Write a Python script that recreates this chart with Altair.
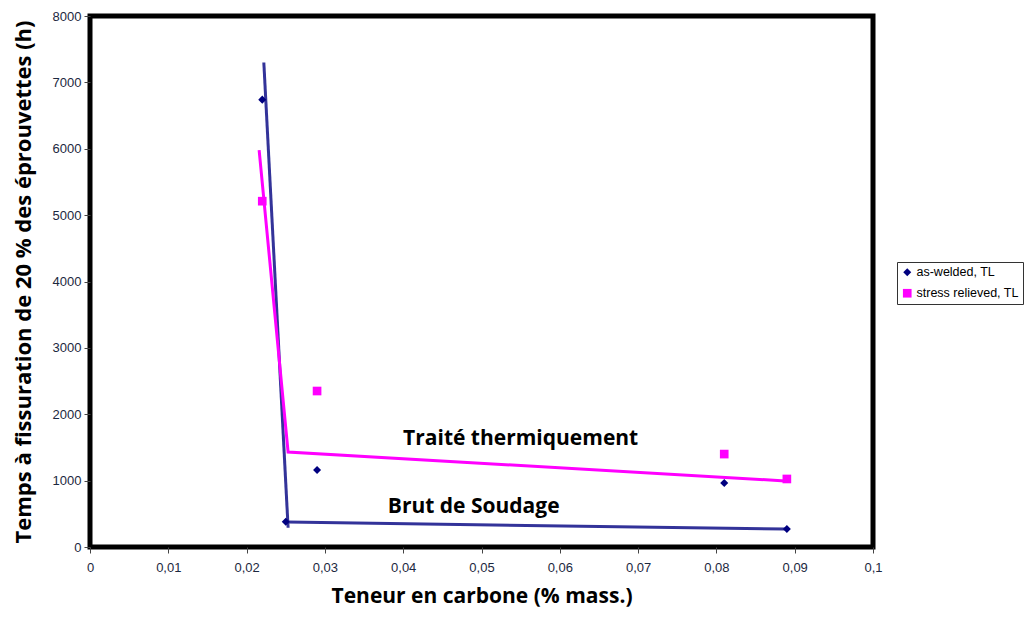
import altair as alt
import pandas as pd

# ---- data ----
series_names = ["as-welded, TL", "stress relieved, TL"]

aw_x = [0.022, 0.025, 0.029, 0.081, 0.089]
aw_y = [6740, 380, 1160, 965, 270]

sr_x = [0.022, 0.029, 0.081, 0.089]
sr_y = [5210, 2350, 1400, 1025]

# hand-drawn trend lines (segment id, x, y)
line_seg = ["aw1", "aw1", "aw2", "aw2", "sr", "sr", "sr"]
line_x = [0.0222, 0.0253, 0.0252, 0.0888, 0.0216, 0.0253, 0.0888]
line_y = [7300, 290, 375, 270, 5980, 1430, 995]
line_col = ["#333399", "#333399", "#333399", "#333399", "#FF00FF", "#FF00FF", "#FF00FF"]

ann_text = ["Traité thermiquement", "Brut de Soudage"]
ann_x = [0.0550, 0.0490]
ann_y = [1620, 610]

x_ticks = [0, 0.01, 0.02, 0.03, 0.04, 0.05, 0.06, 0.07, 0.08, 0.09, 0.1]
y_ticks = [0, 1000, 2000, 3000, 4000, 5000, 6000, 7000, 8000]

pts = pd.DataFrame(
    {"x": aw_x + sr_x,
     "y": aw_y + sr_y,
     "series": [series_names[0]] * len(aw_x) + [series_names[1]] * len(sr_x)}
)
lines = pd.DataFrame({"seg": line_seg, "x": line_x, "y": line_y,
                      "col": line_col, "ord": list(range(len(line_x)))})
ann = pd.DataFrame({"t": ann_text, "x": ann_x, "y": ann_y})

xs = alt.Scale(domain=[0, 0.1], nice=False, zero=False)
ys = alt.Scale(domain=[0, 8000], nice=False)

label_expr = "replace(format(datum.value, '.2~f'), '.', ',')"

x_enc = alt.X("x:Q", scale=xs, axis=alt.Axis(
    values=x_ticks, labelExpr=label_expr,
    title="Teneur en carbone (% mass.)", titlePadding=11, titleFontSize=21))
y_enc = alt.Y("y:Q", scale=ys, axis=alt.Axis(
    values=y_ticks, format="d",
    title="Temps à fissuration de 20 % des éprouvettes (h)",
    titlePadding=17))

line_layer = alt.Chart(lines).mark_line(strokeWidth=3, clip=True).encode(
    x=x_enc, y=y_enc,
    detail="seg:N",
    color=alt.Color("col:N", scale=None),
    order="ord:Q",
)

pt_layer = alt.Chart(pts).mark_point(filled=True, opacity=1).encode(
    x="x:Q", y="y:Q",
    shape=alt.Shape("series:N", scale=alt.Scale(domain=series_names, range=["diamond", "square"]),
                    legend=alt.Legend(title=None, orient="none", legendX=807, legendY=246)),
    color=alt.Color("series:N", scale=alt.Scale(domain=series_names, range=["#000080", "#FF00FF"]),
                    legend=alt.Legend(title=None, orient="none", legendX=807, legendY=246)),
    size=alt.Size("series:N", scale=alt.Scale(domain=series_names, range=[65, 75]), legend=None),
)

text_layer = alt.Chart(ann).mark_text(
    font="Open Sans", fontWeight="bold", fontSize=21, color="black"
).encode(x="x:Q", y="y:Q", text="t:N")

chart = alt.layer(line_layer, pt_layer, text_layer).properties(
    width=783, height=531,
    autosize=alt.AutoSizeParams(type="none"),
    padding={"left": 82, "top": 8, "right": 154, "bottom": 62},
).configure_view(
    stroke="black", strokeWidth=5, fill="white"
).configure_axis(
    grid=False, domain=False,
    tickColor="#444", tickSize=6, tickWidth=1,
    labelFont="Liberation Sans", labelFontSize=13, labelColor="#1c2840",
    titleFont="Open Sans", titleFontSize=22, titleFontWeight="bold", titleColor="black",
).configure_axisX(
    labelPadding=8, labelFlush=False,
).configure_axisY(
    labelPadding=3,
).configure_legend(
    strokeColor="#333", strokeWidth=1, padding=4, fillColor="white",
    labelFont="Liberation Sans", labelFontSize=12.5, labelColor="black",
    symbolSize=50, rowPadding=8, labelLimit=200, labelOffset=3,
)

chart.save("out.html", embed_options={"renderer": "svg", "actions": False})
